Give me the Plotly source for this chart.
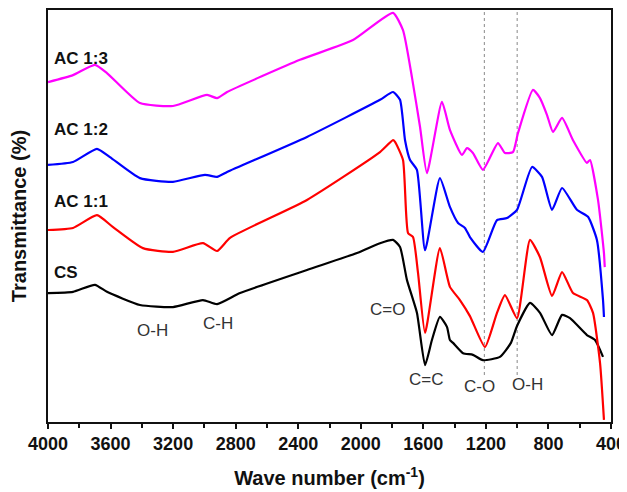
import plotly.graph_objects as go

# Wavenumber (cm^-1) and transmittance (arbitrary %)
cs_w = [4000, 3840, 3700, 3623, 3412, 3201, 3009, 2919, 2772, 2344, 2024, 1877, 1794, 1749, 1705,
        1641, 1589, 1545, 1494, 1449, 1430, 1410, 1346, 1283, 1219, 1110, 1040, 1001, 918, 854,
        777, 713, 662, 554, 502, 451]
cs_t = [31.3, 31.6, 33.3, 31.6, 28.4, 27.9, 29.6, 28.6, 31.3, 36.9, 41.0, 43.4, 44.2, 42.5, 34.5,
        26.5, 13.8, 19.9, 25.5, 23.1, 19.9, 19.2, 16.7, 16.3, 15.0, 15.8, 19.2, 23.3, 28.9, 26.5,
        21.1, 26.0, 25.2, 21.1, 19.9, 15.8]

ac11_w = [4000, 3840, 3687, 3584, 3393, 3201, 3009, 2919, 2836, 2344, 1877, 1794, 1781, 1730, 1698,
          1666, 1634, 1589, 1494, 1430, 1366, 1302, 1206, 1129, 1078, 1001, 918, 854, 777, 713,
          643, 554, 515, 470, 445]
ac11_t = [46.6, 47.1, 50.2, 47.3, 42.2, 41.3, 43.4, 41.5, 44.7, 53.9, 65.5, 68.4, 68.0, 63.6, 45.9,
          44.9, 36.2, 21.6, 42.2, 32.8, 29.6, 25.7, 18.2, 26.5, 30.8, 25.2, 44.2, 40.0, 30.6, 36.4,
          31.3, 29.6, 26.5, 14.3, 0.5]

ac12_w = [4000, 3840, 3687, 3604, 3412, 3201, 2996, 2919, 2855, 2344, 1877, 1794, 1749, 1717, 1685,
          1641, 1589, 1494, 1430, 1378, 1334, 1302, 1219, 1129, 1065, 1001, 905, 841, 777, 713,
          618, 547, 490, 451, 445]
ac12_t = [62.4, 63.1, 66.3, 64.3, 59.2, 58.3, 60.0, 59.5, 60.7, 69.2, 78.2, 80.1, 78.2, 68.4, 63.6,
          61.2, 41.7, 59.2, 52.2, 48.3, 47.1, 44.9, 41.3, 49.0, 49.5, 51.5, 61.9, 59.5, 51.5, 56.8,
          51.5, 49.8, 44.2, 29.6, 25.5]

ac13_w = [4000, 3840, 3700, 3623, 3412, 3201, 2983, 2919, 2855, 2389, 2050, 1794, 1730, 1673, 1621,
          1577, 1481, 1430, 1353, 1321, 1283, 1219, 1123, 1078, 1027, 995, 899, 854, 809, 771,
          713, 643, 554, 534, 483, 445, 440]
ac13_t = [82.5, 84.2, 86.7, 84.7, 77.4, 76.7, 79.4, 78.6, 80.1, 87.9, 92.7, 99.3, 95.1, 83.7, 71.6,
          60.4, 77.7, 70.9, 64.8, 66.5, 65.3, 61.2, 67.7, 65.3, 65.5, 70.1, 80.6, 78.6, 74.5, 70.4,
          73.8, 68.4, 62.9, 63.6, 53.9, 41.0, 37.6]

series_names = ["CS", "AC 1:1", "AC 1:2", "AC 1:3"]
series_colors = ["#000000", "#ff0000", "#0000ff", "#ff00ff"]
series_label_y = [36.4, 53.6, 70.9, 88.3]

band_labels = ["O-H", "C-H", "C=O", "C=C", "C-O", "O-H"]
band_w = [3329, 2913, 1832, 1583, 1238, 937]
band_t = [22.3, 24.0, 27.4, 10.4, 8.7, 9.0]

marker_lines_w = [1210, 1000]
marker_line_top, marker_line_bottom = 100, 11.4

xticks = [4000, 3600, 3200, 2800, 2400, 2000, 1600, 1200, 800, 400]

FONT = "Liberation Sans, Arial, sans-serif"

fig = go.Figure()

for w in marker_lines_w:
    fig.add_trace(go.Scatter(x=[w, w], y=[marker_line_bottom, marker_line_top], mode="lines",
                             line=dict(color="#888888", width=1, dash="dot"), showlegend=False,
                             hoverinfo="skip"))

for xs, ys, nm, col in zip([cs_w, ac11_w, ac12_w, ac13_w], [cs_t, ac11_t, ac12_t, ac13_t],
                           series_names, series_colors):
    fig.add_trace(go.Scatter(x=xs, y=ys, mode="lines", name=nm,
                             line=dict(color=col, width=2.2, shape="spline", smoothing=0.5),
                             showlegend=False))

for nm, yy in zip(series_names, series_label_y):
    fig.add_annotation(x=3975, y=yy, text="<b>%s</b>" % nm, showarrow=False, xanchor="left",
                       yanchor="middle", font=dict(family=FONT, size=17, color="#111111"))

for lab, w, t in zip(band_labels, band_w, band_t):
    fig.add_annotation(x=w, y=t, text=lab, showarrow=False, xanchor="center", yanchor="middle",
                       font=dict(family=FONT, size=17, color="#333333"))

# page body adds an 8px offset at top/left, so the figure is sized 8px smaller
fig.update_layout(
    width=619, height=484,
    margin=dict(l=40, r=16, t=2, b=70),
    paper_bgcolor="white", plot_bgcolor="white",
    font=dict(family=FONT, color="#111111"),
    xaxis=dict(range=[4000, 400], tickvals=xticks, ticktext=["<b>%d</b>" % v for v in xticks],
               tickfont=dict(size=18, family=FONT, color="#111111"),
               ticks="outside", ticklen=5, tickwidth=1.5, tickcolor="#111111",
               minor=dict(dtick=200, tick0=400, ticks="outside", ticklen=4, tickwidth=1.5,
                          tickcolor="#111111"),
               showline=True, linecolor="#111111", linewidth=1.5, mirror=True,
               showgrid=False, zeroline=False, automargin=False,
               title=dict(text="<b>Wave number (cm<sup>-1</sup>)</b>", standoff=18,
                          font=dict(size=20, family=FONT, color="#111111"))),
    yaxis=dict(range=[0, 100], showticklabels=False, ticks="",
               showline=True, linecolor="#111111", linewidth=1.5, mirror=True,
               showgrid=False, zeroline=False, automargin=False,
               title=dict(text="<b>Transmittance (%)</b>", standoff=18,
                          font=dict(size=20, family=FONT, color="#111111"))),
)

fig.write_html("out.html")
